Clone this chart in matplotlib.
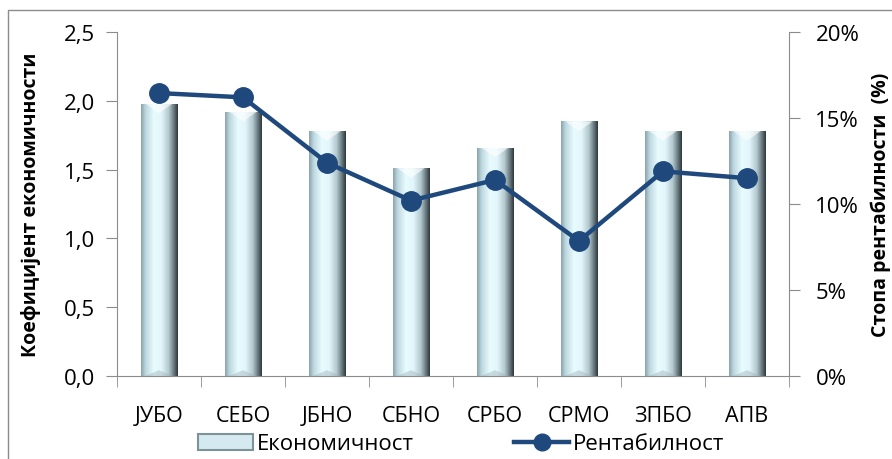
import matplotlib.pyplot as plt
import numpy as np
from matplotlib.colors import LinearSegmentedColormap
from matplotlib.patches import Rectangle, Polygon
from matplotlib.ticker import FuncFormatter, FixedLocator
from matplotlib.lines import Line2D

plt.rcParams['font.family'] = ['Open Sans', 'DejaVu Sans']

categories = ["ЈУБО", "СЕБО", "ЈБНО", "СБНО", "СРБО", "СРМО", "ЗПБО", "АПВ"]
economy = [1.98, 1.92, 1.78, 1.51, 1.66, 1.85, 1.78, 1.78]
profit = [16.45, 16.2, 12.4, 10.2, 11.4, 7.85, 11.9, 11.5]

fig = plt.figure(figsize=(8.92, 4.60), dpi=100)
W, H = 892, 460
ax = fig.add_axes([117 / W, 1 - 377 / H, (789 - 117) / W, (377 - 33) / H])

# outer chart frame (runs off the right and bottom edges like the original)
fig.patches.append(Rectangle((8 / W, -0.1), 1.2, 1 - 11 / H + 0.1, transform=fig.transFigure,
                             fill=False, edgecolor="#8c8c8c", linewidth=1.0))

x = np.arange(len(categories))
bw = 0.43
bars = ax.bar(x, economy, width=bw, color="none", edgecolor="none", zorder=2)

cyl = LinearSegmentedColormap.from_list("cyl", [
    (0.0, "#8aa3ad"), (0.12, "#bcd6de"), (0.35, "#e8fcff"), (0.55, "#e2f6fb"),
    (0.75, "#b4cad0"), (0.88, "#6f8186"), (1.0, "#2f373b")])
grad = np.linspace(0, 1, 200).reshape(1, -1)
for b, v in zip(bars, economy):
    x0 = b.get_x()
    x1 = x0 + b.get_width()
    im = ax.imshow(grad, extent=[x0, x1, 0, v], aspect="auto", cmap=cyl, zorder=2)
    im.set_clip_path(b)
    d = 0.07
    c = (x0 + x1) / 2
    ax.add_patch(Polygon([(x0 + bw * 0.12, v), (x1 - bw * 0.12, v), (c, v - d)],
                         closed=True, facecolor="white", alpha=0.6, edgecolor="none", zorder=3))
    ax.add_patch(Polygon([(x0 + bw * 0.12, 0), (x1 - bw * 0.12, 0), (c, d * 0.6)],
                         closed=True, facecolor="#9fb3ba", alpha=0.45, edgecolor="none", zorder=3))

ax.set_xlim(-0.5, len(categories) - 0.5)
ax.set_ylim(0, 2.5)
ax.set_yticks(np.arange(0, 2.51, 0.5))
ax.yaxis.set_major_formatter(FuncFormatter(lambda v, p: f"{v:.1f}".replace(".", ",")))
ax.set_xticks(x)
ax.set_xticklabels(categories)
ax.xaxis.set_minor_locator(FixedLocator(np.arange(-0.5, len(categories), 1.0)))
ax.tick_params(axis="x", which="major", length=0, pad=21, labelsize=15.5)
ax.tick_params(axis="x", which="minor", length=8, color="#8c8c8c", direction="out")
ax.tick_params(axis="y", length=8, color="#8c8c8c", labelsize=16, pad=8)

for s in ["top", "right"]:
    ax.spines[s].set_visible(False)
for s in ["left", "bottom"]:
    ax.spines[s].set_color("#8c8c8c")

ax.set_ylabel("Коефицијент економичности", fontsize=14, fontweight="bold")
ax.yaxis.set_label_coords(-0.113, 0.5)

ax2 = ax.twinx()
ax2.plot(x, profit, color="#1f497d", linewidth=3.2, marker="o", markersize=14, zorder=5)
ax2.set_ylim(0, 20)
ax2.set_yticks([0, 5, 10, 15, 20])
ax2.yaxis.set_major_formatter(FuncFormatter(lambda v, p: f"{v:.0f}%"))
ax2.tick_params(axis="y", length=8, color="#8c8c8c", labelsize=16, pad=11)
for s in ["top", "left", "bottom"]:
    ax2.spines[s].set_visible(False)
ax2.spines["right"].set_color("#8c8c8c")
ax2.set_ylabel("Стопа рентабилности  (%)", fontsize=14, fontweight="bold")
ax2.yaxis.set_label_coords(1.121, 0.5)

h1 = Rectangle((0, 0), 1, 1, facecolor="#d5eaf0", edgecolor="#7d9299", linewidth=1.5)
h2 = Line2D([], [], color="#1f497d", linewidth=3.2, marker="o", markersize=12)
fig.legend([h1, h2], ["Економичност", "Рентабилност"], loc="center",
           bbox_to_anchor=(461 / W, 1 - 445 / H), ncol=2, frameon=False,
           fontsize=16, handlelength=2.5, columnspacing=4.5, handletextpad=0.15)

fig.savefig("out.png", dpi=100)
